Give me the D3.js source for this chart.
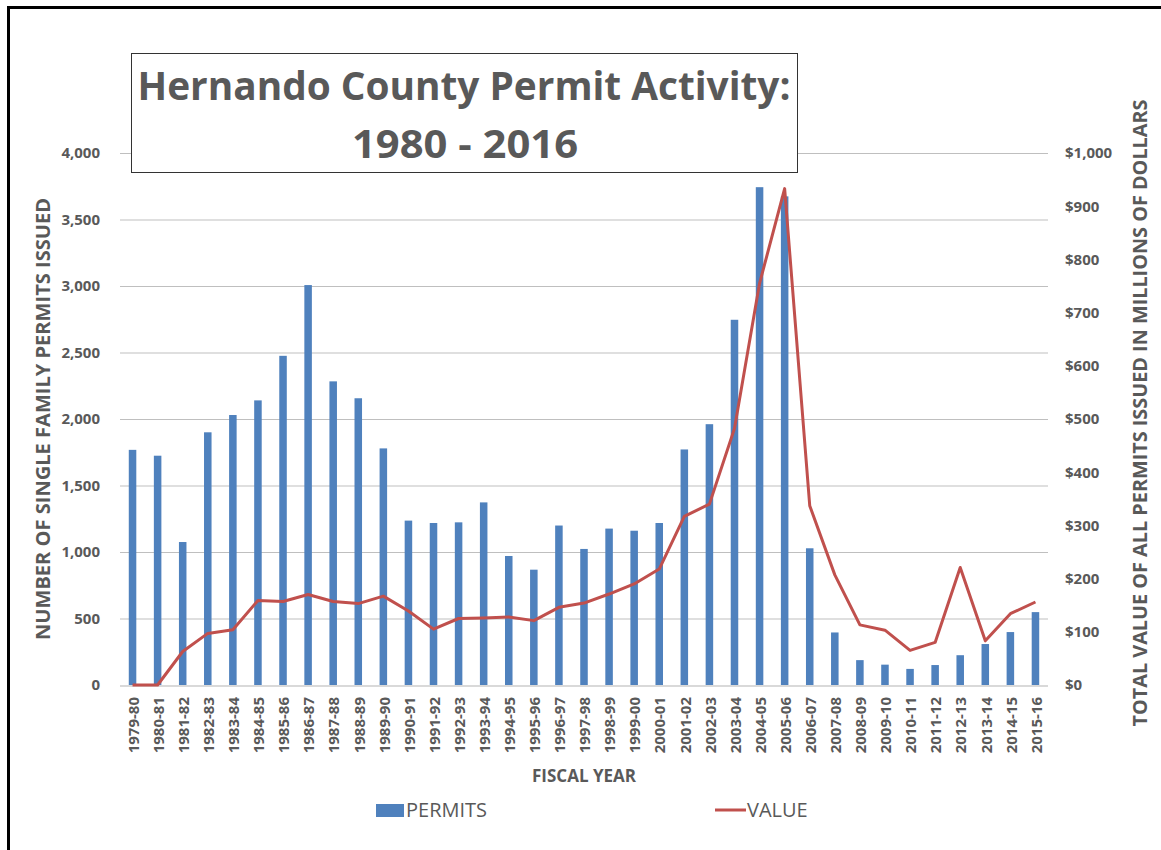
<!DOCTYPE html>
<html>
<head>
<meta charset="utf-8">
<script src="https://cdn.jsdelivr.net/npm/d3@7"></script>
<style>
    body { margin: 0; background: #fff; }
    text { font-family: "Open Sans", sans-serif; fill: #595959; }
</style>
</head>
<body>
<div id="chart"></div>
<script>
const years = ["1979-80", "1980-81", "1981-82", "1982-83", "1983-84", "1984-85", "1985-86", "1986-87",
    "1987-88", "1988-89", "1989-90", "1990-91", "1991-92", "1992-93", "1993-94", "1994-95", "1995-96",
    "1996-97", "1997-98", "1998-99", "1999-00", "2000-01", "2001-02", "2002-03", "2003-04", "2004-05",
    "2005-06", "2006-07", "2007-08", "2008-09", "2009-10", "2010-11", "2011-12", "2012-13", "2013-14",
    "2014-15", "2015-16"];
const permits = [1768, 1724, 1075, 1900, 2030, 2140, 2475, 3007, 2283, 2156, 1779, 1236, 1218, 1223, 1373,
    970, 867, 1199, 1023, 1176, 1160, 1218, 1771, 1961, 2746, 3743, 3674, 1028, 395, 187, 153, 121, 150,
    224, 308, 398, 548];
// millions of dollars
const values = [0, 0, 63, 97, 104, 159, 157, 170, 157, 153, 167, 139, 105, 125, 126, 128, 121, 146, 154,
    171, 190, 218, 317, 340, 482, 755, 933, 337, 207, 113, 103, 65, 80, 221, 83, 134, 156];
const leftTicks = [0, 500, 1000, 1500, 2000, 2500, 3000, 3500, 4000];
const rightTicks = [0, 100, 200, 300, 400, 500, 600, 700, 800, 900, 1000];

(function () {

    const width = 1161, height = 850;
    const left = 120, right = 1048, top = 153, bottom = 685;

    const svg = d3.select("#chart").append("svg").attr("width", width).attr("height", height);

    // frame
    svg.append("rect").attr("x", 8.5).attr("y", 7.5).attr("width", 1200).attr("height", 900)
        .attr("fill", "none").attr("stroke", "#000").attr("stroke-width", 3);

    const x = d3.scaleBand().domain(years).range([left, right]).paddingInner(0.7).paddingOuter(0.35);
    const y = d3.scaleLinear().domain([0, 4000]).range([bottom, top]);
    const y2 = d3.scaleLinear().domain([0, 1000]).range([bottom, top]);

    // gridlines
    svg.append("g").selectAll("line").data(leftTicks.slice(1)).enter().append("line")
        .attr("x1", left).attr("x2", right)
        .attr("y1", d => y(d) + 0.5).attr("y2", d => y(d) + 0.5)
        .attr("stroke", "#bfbfbf").attr("stroke-width", 1);

    // left axis
    const yAxis = svg.append("g").attr("transform", "translate(" + (left - 20) + ",0)")
        .call(d3.axisLeft(y).tickValues(leftTicks).tickFormat(d3.format(",")).tickSize(0).tickPadding(0));
    yAxis.select(".domain").remove();
    yAxis.selectAll("text").style("font-size", "15px").style("font-weight", "bold").attr("fill", "#595959");

    // right axis
    const y2Axis = svg.append("g").attr("transform", "translate(" + (right + 17) + ",0)")
        .call(d3.axisRight(y2).tickValues(rightTicks).tickFormat(d => "$" + d3.format(",")(d)).tickSize(0).tickPadding(0));
    y2Axis.select(".domain").remove();
    y2Axis.selectAll("text").style("font-size", "15px").style("font-weight", "bold").attr("fill", "#595959");

    // bars
    svg.append("g").selectAll("rect").data(permits).enter().append("rect")
        .attr("x", (d, i) => x(years[i]))
        .attr("width", x.bandwidth())
        .attr("y", d => y(d))
        .attr("height", d => y(0) - y(d))
        .attr("fill", "#4f81bd");

    // baseline
    svg.append("line").attr("x1", left).attr("x2", right).attr("y1", bottom + 1).attr("y2", bottom + 1)
        .attr("stroke", "#d9d9d9").attr("stroke-width", 2);

    // value line
    const line = d3.line().x((d, i) => x(years[i]) + x.bandwidth() / 2).y(d => y2(d));
    svg.append("path").datum(values).attr("d", line)
        .attr("fill", "none").attr("stroke", "#c0504d").attr("stroke-width", 3).attr("stroke-linejoin", "round");

    // x labels
    svg.append("g").selectAll("text").data(years).enter().append("text")
        .attr("transform", d => "translate(" + (x(d) + x.bandwidth() / 2 + 1) + "," + (bottom + 12) + ") rotate(-90)")
        .attr("dy", "0.35em").attr("text-anchor", "end")
        .style("font-size", "15px").style("font-weight", "bold")
        .text(d => d);

    svg.append("text").attr("x", (left + right) / 2).attr("y", 782).attr("text-anchor", "middle")
        .style("font-size", "17px").style("font-weight", "bold").text("FISCAL YEAR");

    // axis titles
    svg.append("text").attr("transform", "translate(50,419) rotate(-90)").attr("text-anchor", "middle")
        .attr("textLength", 442).attr("lengthAdjust", "spacingAndGlyphs")
        .style("font-size", "20px").style("font-weight", "bold").text("NUMBER OF SINGLE FAMILY PERMITS ISSUED");
    svg.append("text").attr("transform", "translate(1147,413) rotate(-90)").attr("text-anchor", "middle")
        .attr("textLength", 627).attr("lengthAdjust", "spacingAndGlyphs")
        .style("font-size", "20px").style("font-weight", "bold").text("TOTAL VALUE OF ALL PERMITS ISSUED IN MILLIONS OF DOLLARS");

    // title box
    svg.append("rect").attr("x", 131.5).attr("y", 53.5).attr("width", 666).attr("height", 119)
        .attr("fill", "#fff").attr("stroke", "#333").attr("stroke-width", 1);
    svg.append("text").attr("x", 464).attr("y", 100).attr("text-anchor", "middle")
        .attr("textLength", 653).attr("lengthAdjust", "spacingAndGlyphs")
        .style("font-size", "39px").style("font-weight", "bold").text("Hernando County Permit Activity:");
    svg.append("text").attr("x", 465).attr("y", 158).attr("text-anchor", "middle")
        .attr("textLength", 226).attr("lengthAdjust", "spacingAndGlyphs")
        .style("font-size", "39px").style("font-weight", "bold").text("1980 - 2016");

    // legend
    svg.append("rect").attr("x", 376).attr("y", 804).attr("width", 28).attr("height", 13).attr("fill", "#4f81bd");
    svg.append("text").attr("x", 406).attr("y", 817).style("font-size", "20px").text("PERMITS");
    svg.append("line").attr("x1", 715).attr("x2", 746).attr("y1", 810).attr("y2", 810)
        .attr("stroke", "#c0504d").attr("stroke-width", 3);
    svg.append("text").attr("x", 747).attr("y", 817).style("font-size", "20px").text("VALUE");

})();
</script>
</body>
</html>
